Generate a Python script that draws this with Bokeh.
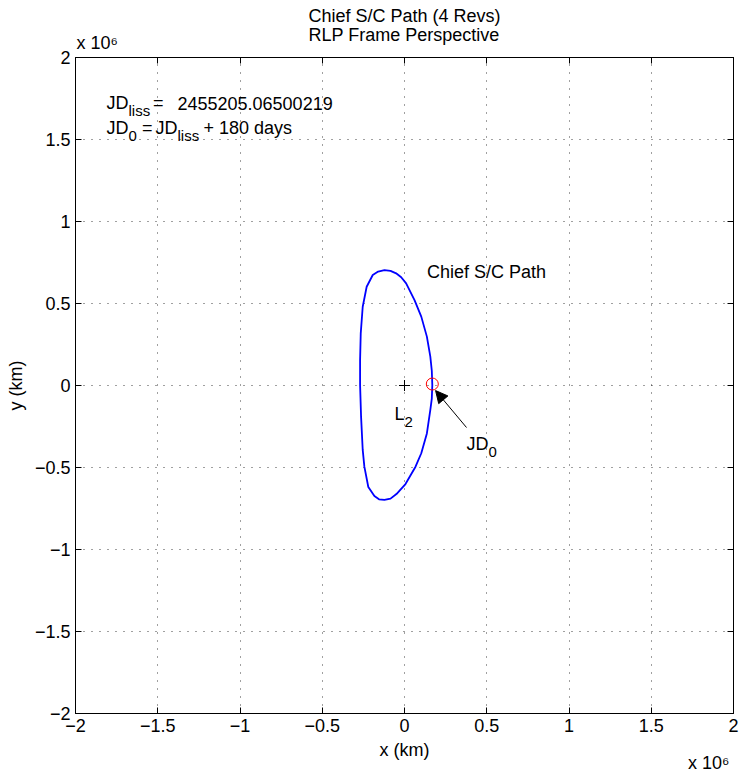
from bokeh.embed import file_html
from bokeh.models import (Arrow, CustomJSTickFormatter, FixedTicker, Label,
                          LinearAxis, NormalHead, Range1d, Title)
from bokeh.plotting import figure
from bokeh.resources import INLINE

# Chief spacecraft path in the rotating libration-point frame, units of 10^6 km
path_x = [0.169, 0.166, 0.157, 0.136, 0.102, 0.061, 0.010, -0.020, -0.051,
          -0.085, -0.122, -0.160, -0.193, -0.230, -0.254, -0.266, -0.270,
          -0.270, -0.264, -0.254, -0.244, -0.220, -0.183, -0.155, -0.122,
          -0.085, -0.049, 0.006, 0.067, 0.102, 0.136, 0.157, 0.166, 0.169]
path_y = [0.003, 0.090, 0.176, 0.298, 0.420, 0.521, 0.623, 0.660, 0.684,
          0.699, 0.704, 0.695, 0.674, 0.602, 0.480, 0.318, 0.155,
          0.003, -0.190, -0.393, -0.495, -0.619, -0.674, -0.694, -0.698,
          -0.690, -0.662, -0.601, -0.495, -0.413, -0.292, -0.149, -0.080, 0.003]

# L2 point and spacecraft position at JD0
l2_x, l2_y = [0.0], [0.0]
jd0_x, jd0_y = [0.169], [0.009]

tick_values = [-2, -1.5, -1, -0.5, 0, 0.5, 1, 1.5, 2]
jd_liss_text = "2455205.06500219"
offset_days = 180

FONT = "Liberation Sans"

# frame geometry (pixels)
LEFT, TOP = 75, 57
FW, FH = 658, 656
BOTTOM = TOP + FH
SX, SY = FW / 4.0, FH / 4.0
X0, Y0 = LEFT + FW / 2.0, TOP + FH / 2.0


def dx(px):
    return (px - X0) / SX


def dy(py):
    return (Y0 - py) / SY


p = figure(frame_width=FW, frame_height=FH, output_backend="svg",
           toolbar_location=None, x_range=Range1d(-2, 2), y_range=Range1d(-2, 2),
           min_border_left=LEFT, min_border_right=6, min_border_top=TOP,
           min_border_bottom=774 - BOTTOM, x_axis_location=None,
           y_axis_location=None)
p.background_fill_color = "white"
p.border_fill_color = "white"
p.outline_line_color = "black"
p.outline_line_width = 1

fmt = CustomJSTickFormatter(code="return tick < 0 ? '\u2212' + String(-tick) : String(tick);")
blank = CustomJSTickFormatter(code="return '';")

axes = {}
for loc in ("below", "left", "above", "right"):
    ax = LinearAxis(ticker=FixedTicker(ticks=tick_values))
    ax.major_tick_in = 6
    ax.major_tick_out = 0
    ax.minor_tick_line_color = None
    ax.axis_line_color = "black"
    ax.major_tick_line_color = "black"
    ax.major_label_text_font = FONT
    ax.major_label_text_font_size = "18px"
    ax.major_label_text_color = "black"
    ax.axis_label_text_font = FONT
    ax.axis_label_text_font_size = "18px"
    ax.axis_label_text_font_style = "normal"
    ax.axis_label_text_color = "black"
    if loc in ("below", "left"):
        ax.formatter = fmt
        ax.major_label_standoff = 5
    else:
        ax.formatter = blank
        ax.major_label_standoff = 0
        ax.major_label_text_font_size = "0px"
    p.add_layout(ax, loc)
    axes[loc] = ax

axes["below"].axis_label = "x (km)"
axes["below"].axis_label_standoff = 5
axes["left"].axis_label = "y (km)"
axes["left"].axis_label_standoff = 6


def title(text, loc, align, standoff, valign="bottom", offset=0):
    p.add_layout(Title(text=text, align=align, offset=offset, standoff=standoff,
                       vertical_align=valign, text_font=FONT,
                       text_font_size="18px", text_font_style="normal",
                       text_color="black", text_line_height=0.95), loc)


# exponent markers
title("x 10\u2076", "above", "left", 9, offset=1)
title("x 10\u2076", "below", "right", -20, valign="top", offset=4)

# title
title("Chief S/C Path (4 Revs)\nRLP Frame Perspective", "above", "center", -36)

p.xgrid.ticker = FixedTicker(ticks=tick_values)
p.ygrid.ticker = FixedTicker(ticks=tick_values)
p.grid.grid_line_color = "black"
p.grid.grid_line_alpha = 0.75
p.grid.grid_line_dash = "1 7"
p.grid.grid_line_width = 1

# orbit path, L2 marker and JD0 marker
p.line(path_x, path_y, line_color="#0000ff", line_width=1.8)
p.scatter(l2_x, l2_y, marker="cross", size=11, line_color="black", line_width=1)
p.scatter(jd0_x, jd0_y, marker="circle", size=12, fill_color=None,
          line_color="red", line_width=1)

p.add_layout(Arrow(end=NormalHead(size=12, fill_color="black", line_color="black"),
                   x_start=dx(466), y_start=dy(427),
                   x_end=jd0_x[0] + 0.02, y_end=jd0_y[0] - 0.04,
                   line_color="black", line_width=1))


def text(px, py, s, size=18):
    p.add_layout(Label(x=dx(px), y=dy(py), text=s, text_font=FONT,
                       text_font_size=f"{size}px", text_color="black",
                       text_align="left", text_baseline="alphabetic"))


# epoch annotation
text(106, 102.5, "JD")
text(128, 110, "liss", size=15)
text(152.5, 102.5, "=")
text(177, 102.5, jd_liss_text)
text(106, 127.5, "JD")
text(128, 135, "0", size=15)
text(141.5, 127.5, "=")
text(155, 127.5, "JD")
text(177, 135, "liss", size=15)
text(203, 127.5, f"+ {offset_days} days")

# marker labels
text(426.5, 271.5, "Chief S/C Path")
text(394, 413.5, "L")
text(404, 421.5, "2", size=15)
text(466, 443, "JD")
text(488, 451.5, "0", size=15)

open("out.html", "w").write(file_html(p, INLINE))
